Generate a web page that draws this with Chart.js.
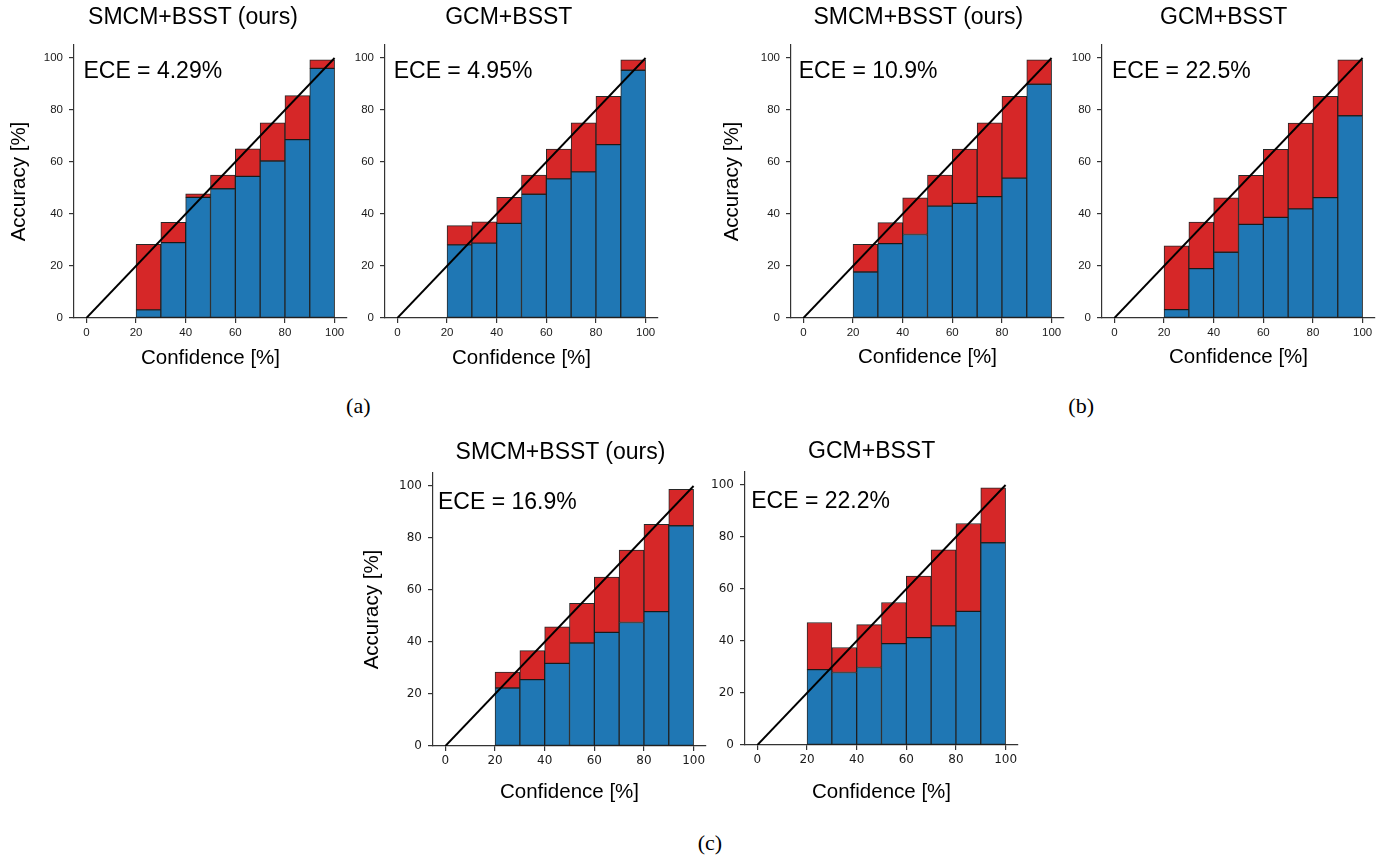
<!DOCTYPE html>
<html><head><meta charset="utf-8">
<script src="https://cdn.jsdelivr.net/npm/chart.js@4.4.1/dist/chart.umd.min.js"></script>
<style>
html,body{margin:0;padding:0;background:#fff;width:1385px;height:861px;overflow:hidden;position:relative;}
canvas{position:absolute;}
.t{position:absolute;width:400px;text-align:center;font-family:"Liberation Sans",Arial,sans-serif;font-size:23px;line-height:26px;color:#000;white-space:nowrap;}
.cap{position:absolute;width:60px;text-align:center;font-family:"Liberation Serif","Times New Roman",serif;font-size:22px;line-height:26px;color:#000;}
</style></head><body>
<script>
// ---------- data ----------
const binCenters = [25, 35, 45, 55, 65, 75, 85, 95];
const xTicks = [0, 20, 40, 60, 80, 100];
const yTicks = [0, 20, 40, 60, 80, 100];
const diagX = [0, 100];
const diagY = [0, 100];

const titles = ["SMCM+BSST (ours)", "GCM+BSST", "SMCM+BSST (ours)", "GCM+BSST", "SMCM+BSST (ours)", "GCM+BSST"];
const eceLabels = ["ECE = 4.29%", "ECE = 4.95%", "ECE = 10.9%", "ECE = 22.5%", "ECE = 16.9%", "ECE = 22.2%"];
const captions = ["(a)", "(b)", "(c)"];

const accA1  = [3.1, 29.0, 46.4, 49.7, 54.5, 60.4, 68.6, 96.0];
const confA1 = [28.3, 36.8, 47.8, 55.0, 65.1, 75.1, 85.5, 99.3];
const accA2  = [28.1, 28.8, 36.4, 47.6, 53.5, 56.2, 66.7, 95.3];
const confA2 = [35.5, 37.0, 46.4, 55.0, 65.0, 75.1, 85.3, 99.3];
const accB1  = [17.7, 28.6, 32.1, 43.0, 44.1, 46.7, 53.8, 89.9];
const confB1 = [28.3, 36.7, 46.2, 55.0, 65.0, 75.1, 85.3, 99.3];
const accB2  = [3.2, 19.0, 25.3, 36.0, 38.7, 42.0, 46.3, 77.8];
const confB2 = [27.8, 36.9, 46.2, 54.9, 64.9, 75.0, 85.3, 99.3];
const accC1  = [22.3, 25.5, 31.8, 39.6, 43.7, 47.5, 51.7, 84.7];
const confC1 = [28.4, 36.7, 45.8, 54.9, 65.0, 75.4, 85.3, 98.7];
const accC2  = [29.0, 27.9, 29.8, 39.0, 41.3, 45.8, 51.4, 77.8];
const confC2 = [47.1, 37.5, 46.3, 54.8, 65.0, 75.1, 85.2, 98.9];

const accs  = [accA1, accA2, accB1, accB2, accC1, accC2];
const confs = [confA1, confA2, confB1, confB2, confC1, confC2];

// ---------- layout / style ----------
const PW = 273, PH = 273, PT = 20, PR = 10;
const BLUE = '#1f77b4', RED = '#d62728', EDGE = 'rgba(15,15,15,0.9)', AX = '#333333';
const SANS = '"Liberation Sans", Arial, sans-serif';
const DEJAVU = '"DejaVu Sans", sans-serif';
const boxes = [
  {x: 5,    y: 25,  yw: 69, xh: 60, ypt: 1.8, xpb: 7.5, yTitle: true,  tickFont: SANS,   tickSize: 11.5, titleX: 193,   titleY: 17.5, eceX: -1.2, eceY: 92.2},
  {x: 340,  y: 25,  yw: 45, xh: 60, ypt: 0,   xpb: 7.5, yTitle: false, tickFont: SANS,   tickSize: 11.5, titleX: 508.8, titleY: 17.5, eceX: -1.5, eceY: 92.2},
  {x: 719,  y: 25,  yw: 72, xh: 60, ypt: 1.1, xpb: 8.3, yTitle: true,  tickFont: SANS,   tickSize: 11.5, titleX: 918.3, titleY: 17.5, eceX: -1.9, eceY: 92.2},
  {x: 1057, y: 25,  yw: 45, xh: 60, ypt: 0,   xpb: 8.3, yTitle: false, tickFont: SANS,   tickSize: 11.5, titleX: 1223.7,titleY: 17.5, eceX: -1.0, eceY: 92.2},
  {x: 359,  y: 453, yw: 74, xh: 60, ypt: 0.8, xpb: 1.3, yTitle: true,  tickFont: DEJAVU, tickSize: 12,   titleX: 560.5, titleY: 452.5, eceX: -3.0, eceY: 91.3},
  {x: 700,  y: 452, yw: 45, xh: 60, ypt: 0,   xpb: 0.8, yTitle: false, tickFont: DEJAVU, tickSize: 12,   titleX: 871.7, titleY: 451.7, eceX: -2.5, eceY: 91.0}
];
const capPos = [{x: 358.3, y: 407.8}, {x: 1081.2, y: 407.8}, {x: 710, y: 845}];

const ecePlugin = {
  id: 'eceText',
  afterDraw(chart, args, opts) {
    const {ctx, scales: {x, y}} = chart;
    ctx.save();
    ctx.font = '23px ' + SANS;
    ctx.fillStyle = '#000';
    ctx.textAlign = 'left';
    ctx.textBaseline = 'alphabetic';
    ctx.fillText(opts.text, x.getPixelForValue(opts.x), y.getPixelForValue(opts.y));
    ctx.restore();
  }
};

function makeChart(i) {
  const L = boxes[i];
  const W = L.yw + PW + PR, H = PT + PH + L.xh;
  const cv = document.createElement('canvas');
  cv.width = W; cv.height = H;
  cv.style.left = L.x + 'px'; cv.style.top = L.y + 'px';
  cv.style.width = W + 'px'; cv.style.height = H + 'px';
  document.body.appendChild(cv);
  const acc = accs[i], conf = confs[i];
  const tickFont = {family: L.tickFont, size: L.tickSize};
  new Chart(cv, {
    type: 'bar',
    data: {
      datasets: [
        {type: 'line', data: diagX.map((v, k) => ({x: v, y: diagY[k]})), borderColor: '#000', borderWidth: 1.9,
         pointRadius: 0, tension: 0, fill: false, order: 0},
        {label: 'Accuracy', data: binCenters.map((c, k) => ({x: c, y: [0, acc[k]]})), backgroundColor: BLUE,
         borderColor: EDGE, borderWidth: 1, borderSkipped: false, grouped: false, order: 1,
         barPercentage: 1, categoryPercentage: 1},
        {label: 'Gap', data: binCenters.map((c, k) => ({x: c, y: [acc[k], conf[k]]})), backgroundColor: RED,
         borderColor: EDGE, borderWidth: 1, borderSkipped: false, grouped: false, order: 2,
         barPercentage: 1, categoryPercentage: 1}
      ]
    },
    options: {
      responsive: false, animation: false, devicePixelRatio: 1,
      layout: {padding: {left: 0, top: PT, right: PR, bottom: 0}},
      plugins: {legend: {display: false}, tooltip: {enabled: false}, title: {display: false},
                eceText: {text: eceLabels[i], x: L.eceX, y: L.eceY}},
      scales: {
        x: {type: 'linear', min: -5, max: 105, offset: false,
            afterBuildTicks: s => { s.ticks = xTicks.map(v => ({value: v})); },
            afterFit: s => { s.height = L.xh; },
            grid: {display: true, drawOnChartArea: false, drawTicks: true, tickLength: 5, color: AX, lineWidth: 1.2, offset: false},
            border: {display: true, color: AX, width: 1.2},
            ticks: {padding: 3, font: tickFont, color: '#1a1a1a', maxRotation: 0, autoSkip: false},
            title: {display: true, text: 'Confidence [%]', color: '#000', font: {family: SANS, size: 20.5},
                    padding: {top: 0, bottom: L.xpb}}},
        y: {type: 'linear', min: 0, max: 105,
            afterBuildTicks: s => { s.ticks = yTicks.map(v => ({value: v})); },
            afterFit: s => { s.width = L.yw; },
            grid: {display: true, drawOnChartArea: false, drawTicks: true, tickLength: 5, color: AX, lineWidth: 1.2},
            border: {display: true, color: AX, width: 1.2},
            ticks: {padding: 6, font: tickFont, color: '#1a1a1a', autoSkip: false},
            title: {display: L.yTitle, text: 'Accuracy [%]', color: '#000', font: {family: SANS, size: 20.5},
                    padding: {top: L.ypt, bottom: 0}}}
      }
    },
    plugins: [ecePlugin]
  });
  const t = document.createElement('div');
  t.className = 't';
  t.textContent = titles[i];
  t.style.left = (L.titleX - 200) + 'px';
  t.style.top = (L.titleY - 15) + 'px';
  document.body.appendChild(t);
}

for (let i = 0; i < 6; i++) makeChart(i);
captions.forEach((c, k) => {
  const d = document.createElement('div');
  d.className = 'cap';
  d.textContent = c;
  d.style.left = (capPos[k].x - 30) + 'px';
  d.style.top = (capPos[k].y - 14.8) + 'px';
  document.body.appendChild(d);
});
</script>
</body></html>
